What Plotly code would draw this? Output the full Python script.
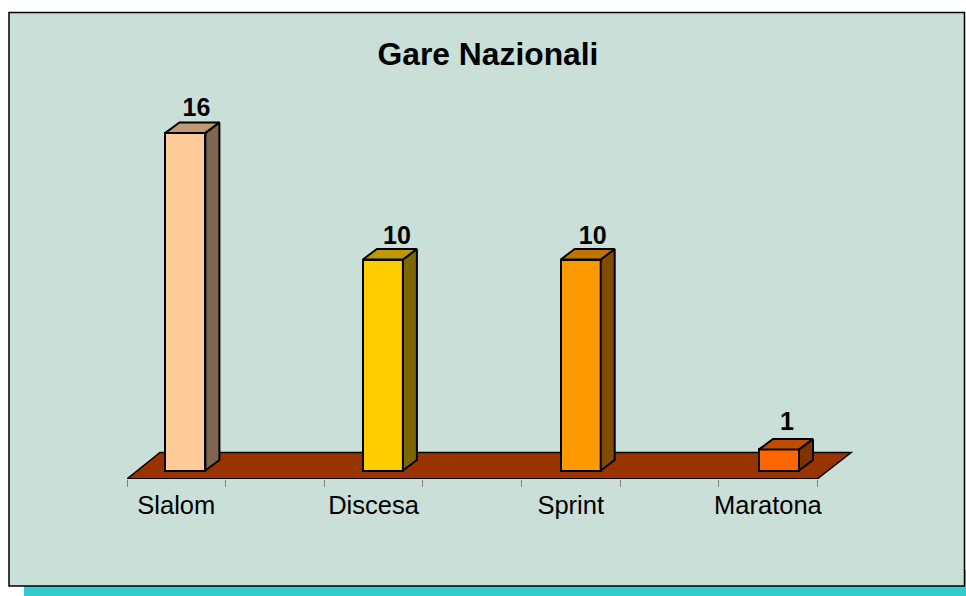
import plotly.graph_objects as go

title = "Gare Nazionali"
categories = ["Slalom", " ", "Discesa", "  ", "Sprint", "   ", "Maratona"]
bar_names = ["Slalom", "Discesa", "Sprint", "Maratona"]
bar_slots = [0, 2, 4, 6]
values = [16, 10, 10, 1]
front_colors = ["#FFCC99", "#FFCC00", "#FF9900", "#FF6600"]
top_colors = ["#C09A74", "#BF9900", "#BF7300", "#BF4C00"]
side_colors = ["#806650", "#806600", "#804C00", "#803300"]
label_dx_px = [11, 14, 12, 8]
label_dy_px = [0, -1, -1, 3]
bar_nudge_px = [-0.6, -0.3, 0.3, 1.4]

W, H = 966, 596
L, T, BOT = 127, 100, 479
PX_PER_SLOT = 98.6
R = 853
X_MIN, X_MAX = -0.5, -0.5 + (R - L) / PX_PER_SLOT
PX_PER_UNIT = 21.1
Y_MIN = -(BOT - 470.5) / PX_PER_UNIT
Y_MAX = (470.5 - T) / PX_PER_UNIT
SHIFT = 59 / PX_PER_SLOT - 0.5
BAR_W = 40 / PX_PER_SLOT
DX = 14 / PX_PER_SLOT
DY = 10.5 / PX_PER_UNIT
FLOOR_BACK = 18 / PX_PER_UNIT
FLOOR_DL, FLOOR_DR = 33 / PX_PER_SLOT, 34 / PX_PER_SLOT
EDGE = dict(color="#000000", width=2)

fig = go.Figure()

# invisible trace that gives the category axis its categories
fig.add_trace(go.Scatter(x=categories, y=[0] * 7, mode="markers",
                         marker=dict(opacity=0), hoverinfo="skip",
                         showlegend=False, xaxis="x", yaxis="y"))

centers = [s + SHIFT + n / PX_PER_SLOT for s, n in zip(bar_slots, bar_nudge_px)]
fig.add_trace(go.Bar(x=centers, y=values, width=BAR_W, name="",
                     customdata=bar_names,
                     hovertemplate="%{customdata}: %{y}<extra></extra>",
                     marker=dict(color=front_colors, line=EDGE),
                     showlegend=False, xaxis="x2", yaxis="y"))

# front edge of the floor (the shape's edge is clipped by the plot area)
fig.add_trace(go.Scatter(x=[-0.5, 6.5], y=[Y_MIN, Y_MIN], mode="lines",
                         line=dict(color="#000000", width=1.5), cliponaxis=False,
                         hoverinfo="skip", showlegend=False, xaxis="x2", yaxis="y"))

for c, v, tc, sc in zip(centers, values, top_colors, side_colors):
    x0, x1 = c - BAR_W / 2, c + BAR_W / 2
    fig.add_trace(go.Scatter(
        x=[x1, x1 + DX, x1 + DX, x1, x1], y=[0, DY, v + DY, v, 0],
        mode="lines", fill="toself", fillcolor=sc, line=EDGE,
        hoverinfo="skip", showlegend=False, xaxis="x2", yaxis="y"))
    fig.add_trace(go.Scatter(
        x=[x0, x0 + DX, x1 + DX, x1, x0], y=[v, v + DY, v + DY, v, v],
        mode="lines", fill="toself", fillcolor=tc, line=EDGE,
        hoverinfo="skip", showlegend=False, xaxis="x2", yaxis="y"))

fig.add_trace(go.Scatter(
    x=[c + d / PX_PER_SLOT for c, d in zip(centers, label_dx_px)],
    y=[v + DY + d / PX_PER_UNIT for v, d in zip(values, label_dy_px)],
    mode="text", text=[str(v) for v in values], textposition="top center",
    textfont=dict(family="Liberation Sans", size=25, color="#000000", weight="bold"),
    cliponaxis=False, hoverinfo="skip", showlegend=False, xaxis="x2", yaxis="y"))

shapes = [
    dict(type="rect", xref="paper", yref="paper", layer="below",
         x0=(24 - L) / (R - L), x1=(966 - L) / (R - L),
         y0=(BOT - 597) / (BOT - T), y1=(BOT - 570) / (BOT - T),
         fillcolor="#33CCCC", line=dict(width=0)),
    dict(type="rect", xref="paper", yref="paper", layer="below",
         x0=(9 - L) / (R - L), x1=(964.5 - L) / (R - L),
         y0=(BOT - 586) / (BOT - T), y1=(BOT - 12.5) / (BOT - T),
         fillcolor="#C9DFD7", line=dict(color="#000000", width=1.5)),
    dict(type="path", xref="x2", yref="y", layer="below",
         path=f"M -0.5 {Y_MIN} L 6.5 {Y_MIN} L {6.5 + FLOOR_DR} {FLOOR_BACK} "
              f"L {-0.5 + FLOOR_DL} {FLOOR_BACK} Z",
         fillcolor="#993300", line=dict(color="#000000", width=1.5)),
]

fig.update_layout(
    width=W, height=H, autosize=False,
    margin=dict(l=L, r=W - R, t=T, b=H - BOT, pad=0),
    paper_bgcolor="#FFFFFF", plot_bgcolor="rgba(0,0,0,0)",
    showlegend=False, shapes=shapes, bargap=0,
    font=dict(family="Liberation Sans", color="#000000"),
    title=dict(text=title, x=488 / W, xref="container", xanchor="center",
               y=1 - 54 / H, yref="container", yanchor="middle",
               font=dict(family="Liberation Sans", size=31.8, color="#000000", weight="bold")),
    xaxis=dict(type="category", categoryorder="array", categoryarray=categories,
               range=[X_MIN, X_MAX], tickson="boundaries", ticks="outside", ticklen=7,
               tickwidth=1, tickcolor="#808080", showline=False,
               ticklabelstandoff=8, showgrid=False, zeroline=False, automargin=False,
               tickangle=0, tickfont=dict(family="Liberation Sans", size=25.5, color="#000000")),
    xaxis2=dict(type="linear", overlaying="x", range=[X_MIN, X_MAX], visible=False),
    yaxis=dict(range=[Y_MIN, Y_MAX], visible=False, fixedrange=True),
)

fig.write_html("out.html", config=dict(displayModeBar=False),
               post_script="document.body.style.margin='0';")
